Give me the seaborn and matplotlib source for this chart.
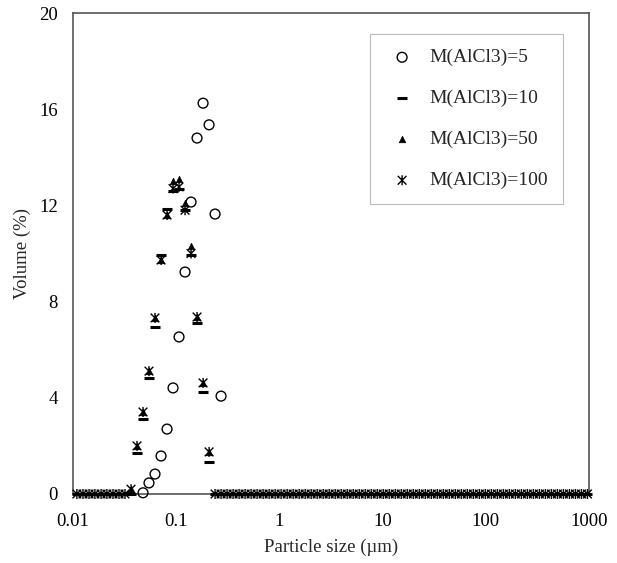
# === IMPORTS ===
import numpy as np
import seaborn as sns
import matplotlib.pyplot as plt
from matplotlib.path import Path
from matplotlib.ticker import FixedLocator, FixedFormatter, NullLocator

# === DATA ===
# instrument size bins (um)
size_bins = [
    0.0109, 0.0125, 0.0143, 0.0163, 0.0187, 0.0213, 0.0244, 0.0279, 0.0319,
    0.0365, 0.0417, 0.0477, 0.0545, 0.0623, 0.0713, 0.0815, 0.0932,
    0.1065, 0.1218, 0.1393, 0.1592, 0.1821, 0.2082, 0.238, 0.2721, 0.3112,
    0.3558, 0.4068, 0.4651, 0.5318, 0.6081, 0.6954, 0.7951, 0.9091,
    1.039, 1.189, 1.359, 1.554, 1.777, 2.031, 2.323, 2.656, 3.037, 3.472,
    3.970, 4.539, 5.190, 5.935, 6.786, 7.759, 8.872,
    10.14, 11.59, 13.26, 15.16, 17.33, 19.82, 22.66, 25.91, 29.62, 33.87,
    38.73, 44.28, 50.62, 57.88, 66.19, 75.68, 86.56, 98.95,
    113.2, 129.4, 147.9, 169.1, 193.4, 221.1, 252.8, 289.1, 330.5, 377.9,
    432.1, 494.1, 564.9, 646.0, 738.6, 844.5, 965.6,
]

# M(AlCl3)=5 : only the bins where it shows up (bins 11..24)
m5_sizes = [0.0477, 0.0545, 0.0623, 0.0713, 0.0815, 0.0932, 0.1065,
            0.1218, 0.1393, 0.1592, 0.1821, 0.2082, 0.238, 0.2721]
m5_volume = [0.05, 0.46, 0.83, 1.58, 2.70, 4.41, 6.53,
             9.23, 12.14, 14.8, 16.25, 15.35, 11.64, 4.07]

# M(AlCl3)=50 : bins 9..22 (mostly hidden under the M=100 stars)
m50_sizes = [0.0365, 0.0417, 0.0477, 0.0545, 0.0623, 0.0713, 0.0815,
             0.0932, 0.1065, 0.1218, 0.1393, 0.1592, 0.1821, 0.2082]
m50_volume = [0.2, 2.0, 3.41, 5.11, 7.32, 9.73, 11.6,
              13.0, 13.1, 12.1, 10.3, 7.36, 4.62, 1.75]

# M(AlCl3)=10 and 100 : full bin range, zero outside bins 9..22
m10_peak = [0.0, 1.70, 3.12, 4.83, 6.94, 9.94, 11.85,
            12.6, 12.7, 11.8, 9.95, 7.1, 4.24, 1.33]
m100_peak = [0.2, 2.0, 3.41, 5.11, 7.32, 9.73, 11.6,
             12.7, 12.77, 11.8, 10.0, 7.36, 4.62, 1.75]
m10_volume = [0.0] * 9 + m10_peak + [0.0] * 63
m100_volume = [0.0] * 9 + m100_peak + [0.0] * 63

x_ticks = [0.01, 0.1, 1, 10, 100, 1000]
x_tick_labels = ["0.01", "0.1", "1", "10", "100", "1000"]
y_ticks = [0, 4, 8, 12, 16, 20]

# === SETTINGS ===
sns.set_style("white")
plt.rcParams["font.family"] = ["Liberation Serif", "DejaVu Serif"]

# Excel style star marker: x with a vertical bar
star = Path([(-1, -1), (1, 1), (-1, 1), (1, -1), (0, -1.15), (0, 1.15)],
            [Path.MOVETO, Path.LINETO, Path.MOVETO, Path.LINETO,
             Path.MOVETO, Path.LINETO])

fig = plt.figure(figsize=(6.17, 5.63), dpi=100)
ax = fig.add_axes([73 / 617, 69 / 563, 516 / 617, 481 / 563])

# === PLOT ===
sns.scatterplot(x=m5_sizes, y=m5_volume, ax=ax, marker="o", s=50,
                color="black", facecolors="none", edgecolor="black",
                linewidth=1.0, label="M(AlCl3)=5", clip_on=False, zorder=3)
sns.scatterplot(x=size_bins, y=m10_volume, ax=ax, marker="_", s=42,
                color="black", linewidth=2.2, label="M(AlCl3)=10",
                clip_on=False, zorder=4)
sns.scatterplot(x=m50_sizes, y=m50_volume, ax=ax, marker="^", s=22,
                color="black", edgecolor="black", linewidth=0.5,
                label="M(AlCl3)=50", clip_on=False, zorder=5)
sns.scatterplot(x=size_bins, y=m100_volume, ax=ax, marker=star, s=52,
                color="black", facecolors="none", edgecolor="black",
                linewidth=1.0, label="M(AlCl3)=100", clip_on=False, zorder=6)

ax.set_xscale("log")
ax.set_xlim(0.01, 1000)
ax.set_ylim(0, 20)
ax.xaxis.set_major_locator(FixedLocator(x_ticks))
ax.xaxis.set_major_formatter(FixedFormatter(x_tick_labels))
ax.xaxis.set_minor_locator(NullLocator())
ax.set_yticks(y_ticks)

for side in ["left", "right", "top", "bottom"]:
    ax.spines[side].set_visible(True)
    ax.spines[side].set_color("#555555")
    ax.spines[side].set_linewidth(1.2)

ax.tick_params(axis="both", direction="in", length=4, width=0.8,
               color="#999999", labelsize=13.5, labelcolor="black")
ax.tick_params(axis="x", pad=14)
ax.tick_params(axis="y", pad=11)

ax.set_xlabel("Particle size (µm)", fontsize=13.5, labelpad=6)
ax.set_ylabel("Volume (%)", fontsize=13.5, labelpad=6)

leg = ax.legend(loc="upper left", bbox_to_anchor=(0.5756, 0.956),
                borderaxespad=0, frameon=True, fancybox=False,
                fontsize=14, labelspacing=1.2, borderpad=0.75,
                handlelength=1.8, handletextpad=0.5, scatterpoints=1)
leg.get_frame().set_edgecolor("#aaaaaa")
leg.get_frame().set_linewidth(0.8)

plt.savefig("out.png", dpi=100)
plt.close()
